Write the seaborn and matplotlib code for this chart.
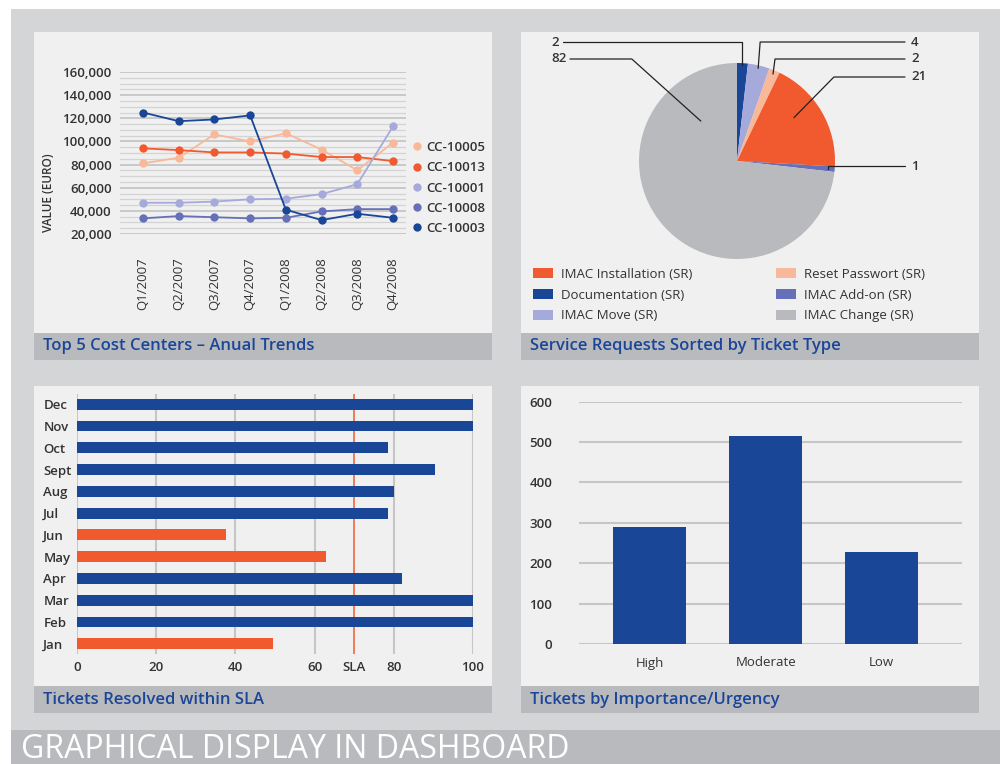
import matplotlib
matplotlib.use("Agg")
import matplotlib.pyplot as plt
from matplotlib.patches import Rectangle, Patch
from matplotlib.lines import Line2D
from matplotlib.ticker import MultipleLocator, FuncFormatter
import numpy as np
import pandas as pd
import seaborn as sns

# ---- data ----
quarters = ["Q1/2007", "Q2/2007", "Q3/2007", "Q4/2007",
            "Q1/2008", "Q2/2008", "Q3/2008", "Q4/2008"]
cost_centers = ["CC-10005", "CC-10013", "CC-10001", "CC-10008", "CC-10003"]
cc_10005 = [81000, 86000, 106000, 100000, 107000, 93000, 75000, 99000]
cc_10013 = [94000, 92500, 90500, 90500, 89500, 86500, 86500, 83000]
cc_10001 = [47000, 47000, 48000, 50000, 50500, 54500, 63000, 113000]
cc_10008 = [33500, 35500, 34500, 33500, 34000, 39500, 41500, 41500]
cc_10003 = [125000, 117500, 119000, 122500, 41000, 32000, 37500, 34000]

ticket_types = ["Documentation (SR)", "IMAC Move (SR)", "Reset Passwort (SR)",
                "IMAC Installation (SR)", "IMAC Add-on (SR)", "IMAC Change (SR)"]
ticket_counts = [2, 4, 2, 21, 1, 82]

months = ["Jan", "Feb", "Mar", "Apr", "May", "Jun",
          "Jul", "Aug", "Sept", "Oct", "Nov", "Dec"]
resolved_pct = [49.5, 100, 100, 82, 63, 37.5, 78.5, 80, 90.5, 78.5, 100, 100]
sla = 70

urgency = ["High", "Moderate", "Low"]
urgency_counts = [290, 515, 228]

# ---- colours ----
BLUE = "#1a4698"
ORANGE = "#f15a2e"
PEACH = "#f8b89a"
LAVENDER = "#a6aada"
PURPLE = "#6670b8"
GREY = "#b9babd"
PANEL = "#f0f0f0"
OUTER = "#d4d5d7"
TXT = "#333333"

sns.set_theme(style="white")
plt.rcParams["font.family"] = ["Open Sans", "DejaVu Sans"]

W, H = 1000, 764
fig = plt.figure(figsize=(W / 100, H / 100), dpi=100)
fig.patch.set_facecolor("white")


def box(x0, y0, x1, y1, color):
    fig.add_artist(Rectangle((x0 / W, 1 - y1 / H), (x1 - x0) / W, (y1 - y0) / H,
                             transform=fig.transFigure, color=color, lw=0, zorder=-10))


def axes_px(x0, y0, x1, y1):
    ax = fig.add_axes([x0 / W, 1 - y1 / H, (x1 - x0) / W, (y1 - y0) / H])
    ax.set_facecolor("none")
    for s in ax.spines.values():
        s.set_visible(False)
    return ax


def title_bar(x0, y0, x1, y1, text):
    box(x0, y0, x1, y1, GREY)
    fig.text((x0 + 9) / W, 1 - (y0 + y1) / 2 / H, text, ha="left", va="center",
             fontsize=12, fontweight="semibold", color=BLUE)


# backgrounds
box(11, 9, 1000, 764, OUTER)
box(34, 32, 492, 333, PANEL)
box(521, 32, 979, 333, PANEL)
box(34, 386, 492, 686, PANEL)
box(521, 386, 979, 686, PANEL)
title_bar(34, 333, 492, 360, "Top 5 Cost Centers – Anual Trends")
title_bar(521, 333, 979, 360, "Service Requests Sorted by Ticket Type")
title_bar(34, 686, 492, 713, "Tickets Resolved within SLA")
title_bar(521, 686, 979, 713, "Tickets by Importance/Urgency")
box(11, 730, 1000, 764, GREY)
fig.text(21 / W, 1 - 749 / H, "GRAPHICAL DISPLAY IN DASHBOARD", ha="left", va="center",
         fontsize=23, fontweight="normal", color="white")

# ---- top left: line chart ----
line_colors = [PEACH, ORANGE, LAVENDER, PURPLE, BLUE]
series = [cc_10005, cc_10013, cc_10001, cc_10008, cc_10003]
df1 = pd.DataFrame({
    "quarter": quarters * len(cost_centers),
    "cc": np.repeat(cost_centers, len(quarters)),
    "value": np.concatenate(series),
})
ax1 = axes_px(120, 72, 406, 234)
sns.lineplot(data=df1, x="quarter", y="value", hue="cc", hue_order=cost_centers,
             palette=dict(zip(cost_centers, line_colors)), marker="o", markersize=6,
             markeredgewidth=0, linewidth=1.3, sort=False, legend=False, ax=ax1)
ax1.set_xlim(-0.644, 7.364)
ax1.set_ylim(20000, 160000)
ax1.yaxis.set_major_locator(MultipleLocator(20000))
ax1.yaxis.set_minor_locator(MultipleLocator(5000))
ax1.yaxis.set_major_formatter(FuncFormatter(lambda v, p: f"{v:,.0f}"))
ax1.grid(True, which="major", axis="y", color="#bdbebf", lw=1.1)
ax1.grid(True, which="minor", axis="y", color="#d3d3d4", lw=0.9)
ax1.set_axisbelow(True)
ax1.tick_params(axis="both", which="both", length=0, labelsize=9.5, colors=TXT)
ax1.tick_params(axis="y", pad=6)
ax1.tick_params(axis="x", pad=17, labelrotation=90)
for lbl in ax1.get_yticklabels():
    lbl.set_fontweight("semibold")
ax1.set_xlabel("")
ax1.set_ylabel("")
fig.text(48 / W, 1 - 193 / H, "VALUE (EURO)", rotation=90, ha="center", va="center",
         fontsize=8.5, fontweight="semibold", color=TXT)
handles = [Line2D([], [], ls="", marker="o", markersize=6, markeredgewidth=0, color=c)
           for c in line_colors]
ax1.legend(handles, cost_centers, loc="center left",
           bbox_to_anchor=(413 / W, 1 - 188 / H), bbox_transform=fig.transFigure,
           frameon=False, handlelength=0.6, handletextpad=0.4, labelspacing=0.55,
           borderpad=0, borderaxespad=0, prop={"size": 9.5, "weight": "semibold"},
           labelcolor=TXT)

# ---- top right: pie ----
PIE_CX, PIE_CY, PIE_R = 737, 161, 98
pie_colors = [BLUE, LAVENDER, PEACH, ORANGE, PURPLE, GREY]
ax2 = axes_px(PIE_CX - PIE_R, PIE_CY - PIE_R, PIE_CX + PIE_R, PIE_CY + PIE_R)
wedges, _ = ax2.pie(ticket_counts, colors=pie_colors, startangle=90, counterclock=False,
                    radius=1, wedgeprops=dict(linewidth=0))
ax2.set_xlim(-1, 1)
ax2.set_ylim(-1, 1)

# leader layout per slice: label x, label y, side, line end x, elbow dx, frac in wedge, radius
pie_leaders = [
    (551, 42, "left", 563, 0, 0.5, 0.98),
    (911, 42, "right", 905, 2, 0.5, 0.97),
    (911, 59, "right", 905, 2, 0.5, 0.96),
    (911, 77, "right", 905, 40, 0.4, 0.73),
    (911, 166, "right", 905, 0, 0.5, 0.93),
    (551, 59, "left", 570, -69, 0.84, 0.55),
]


def to_data(px, py):
    return (px - PIE_CX) / PIE_R, (PIE_CY - py) / PIE_R


for w, cnt, (lx, ly, side, lend, edx, frac, r) in zip(wedges, ticket_counts, pie_leaders):
    ang = np.deg2rad(w.theta2 - frac * (w.theta2 - w.theta1))
    axx, axy = r * np.cos(ang), r * np.sin(ang)
    ex = axx + edx / PIE_R
    _, ey = to_data(0, ly)
    sx, _ = to_data(lend, 0)
    ax2.plot([axx, ex, sx], [axy, ey, ey], color="#222222", lw=0.9, clip_on=False)
    tx, ty = to_data(lx, ly)
    ax2.text(tx, ty, str(cnt), ha="left", va="center", fontsize=9.5,
             fontweight="semibold", color=TXT, clip_on=False)

patches = [Patch(facecolor=c, edgecolor="none") for c in pie_colors]
leg_kw = dict(loc="center left", bbox_transform=fig.transFigure, frameon=False,
              handlelength=1.5, handleheight=0.75, handletextpad=0.6, labelspacing=0.6,
              borderpad=0, borderaxespad=0, fontsize=9.5, labelcolor=TXT)
leg_a = ax2.legend([patches[3], patches[0], patches[1]],
                   [ticket_types[3], ticket_types[0], ticket_types[1]],
                   bbox_to_anchor=(533 / W, 1 - 295 / H), **leg_kw)
ax2.add_artist(leg_a)
ax2.legend([patches[2], patches[4], patches[5]],
           [ticket_types[2], ticket_types[4], ticket_types[5]],
           bbox_to_anchor=(776 / W, 1 - 295 / H), **leg_kw)

# ---- bottom left: SLA bars ----
df3 = pd.DataFrame({"month": months, "pct": resolved_pct})
df3["status"] = np.where(df3["pct"] < sla, "missed", "met")
ax3 = axes_px(77.3, 394, 472.7, 654)
for v in [0, 20, 40, 60, 80, 100]:
    ax3.axvline(v, color="#c6c6c7", lw=1.5, zorder=0)
ax3.axvline(sla, color=ORANGE, lw=1.1, zorder=0.5)
sns.barplot(data=df3, x="pct", y="month", order=months[::-1], hue="status",
            hue_order=["met", "missed"], palette={"met": BLUE, "missed": ORANGE},
            dodge=False, width=0.5, saturation=1, legend=False, orient="h",
            linewidth=0, ax=ax3)
ax3.set_xlim(0, 100)
ax3.set_ylim(11.47, -0.47)
ax3.set_xticks([0, 20, 40, 60, sla, 80, 100], labels=["0", "20", "40", "60", "SLA", "80", "100"])
ax3.tick_params(axis="both", length=0, labelsize=9.5, colors=TXT)
ax3.tick_params(axis="x", pad=5)
ax3.tick_params(axis="y", pad=24.5)
for lbl in ax3.get_yticklabels():
    lbl.set_ha("left")
    lbl.set_fontweight("semibold")
for lbl in ax3.get_xticklabels():
    lbl.set_fontweight("semibold")
ax3.set_xlabel("")
ax3.set_ylabel("")

# ---- bottom right: urgency bars ----
ax4 = axes_px(579.3, 401.7, 961.7, 644)
sns.barplot(x=urgency, y=urgency_counts, color=BLUE, width=0.63, saturation=1,
            linewidth=0, ax=ax4)
ax4.set_xlim(-0.61, 2.69)
ax4.set_ylim(0, 600)
ax4.yaxis.set_major_locator(MultipleLocator(100))
ax4.yaxis.grid(True, color="#c6c6c7", lw=1.5)
ax4.set_axisbelow(True)
ax4.tick_params(axis="both", length=0, labelsize=9.5, colors=TXT)
ax4.tick_params(axis="y", pad=19.5)
ax4.tick_params(axis="x", pad=9)
for lbl in ax4.get_yticklabels():
    lbl.set_fontweight("semibold")
ax4.set_xlabel("")
ax4.set_ylabel("")

fig.savefig("out.png", dpi=100)
